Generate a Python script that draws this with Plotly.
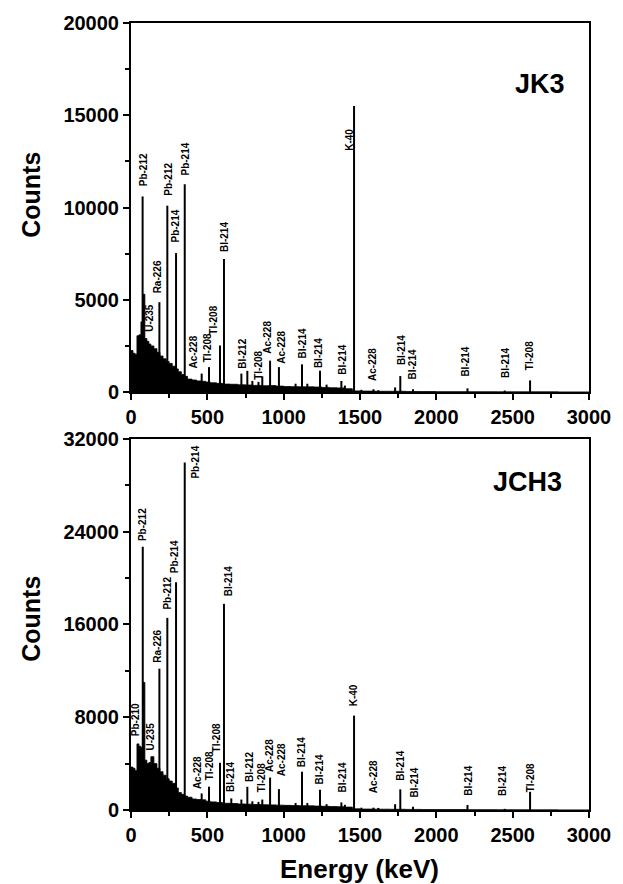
import plotly.graph_objects as go
from plotly.subplots import make_subplots

# ---------------- data ----------------
# continuum bin edges (keV)
bin_edges = [0, 13, 26, 39, 52, 65, 78, 91, 104, 117, 130, 150, 170, 190, 210, 230, 250,
             270, 290, 310, 330, 350, 370, 400, 430, 460, 490, 520, 560, 600, 650, 700,
             750, 800, 850, 900, 950, 1000, 1050, 1100, 1150, 1200, 1250, 1300, 1350,
             1400, 1450, 1500, 1600, 1700, 1800, 1900, 2000, 2200, 2400, 2600, 2800, 3000]

jk3_continuum = [2250, 2100, 2050, 3050, 3100, 3800, 5300, 2900, 2750, 2600, 2500, 2350,
                 2150, 1950, 1800, 1650, 1550, 1400, 1250, 1100, 950, 850, 700, 650, 600,
                 580, 540, 500, 470, 430, 420, 390, 380, 360, 340, 350, 320, 300, 290, 280,
                 280, 270, 250, 230, 220, 180, 60, 50, 40, 40, 30, 25, 20, 15, 10, 10, 5]

jch3_continuum = [3700, 3600, 3400, 5700, 5500, 5400, 11000, 4300, 4000, 4100, 4600, 4000,
                  3600, 3300, 3000, 2700, 2500, 2300, 1900, 1500, 1350, 1200, 1100, 950, 900,
                  880, 760, 700, 650, 580, 560, 520, 500, 470, 450, 440, 420, 400, 380, 370,
                  360, 340, 320, 300, 280, 250, 100, 80, 70, 60, 50, 40, 40, 30, 20, 15, 10]

# peak lines (keV, counts)
jk3_peak_e = [76, 186, 238, 295, 352, 463, 511, 583, 609, 723, 762, 795, 835, 860, 911, 969,
              1078, 1120, 1155, 1238, 1281, 1378, 1401, 1461, 1509, 1588, 1620, 1730, 1764,
              1847, 2204, 2448, 2614]
jk3_peak_c = [10600, 4870, 10100, 7530, 11260, 1000, 1350, 2520, 7210, 1000, 1150, 600, 550,
              850, 1700, 1350, 450, 1500, 450, 1150, 400, 600, 350, 15500, 120, 150, 100, 250,
              865, 150, 200, 80, 630]

jch3_peak_e = [77, 186, 238, 295, 352, 463, 511, 583, 609, 657, 723, 762, 795, 835, 860, 911,
               969, 1078, 1120, 1155, 1238, 1281, 1378, 1401, 1461, 1509, 1588, 1620, 1730,
               1764, 1847, 2204, 2448, 2614]
jch3_peak_c = [22710, 12190, 16570, 19640, 29960, 1430, 2010, 4070, 17780, 1000, 900, 2000,
               750, 700, 900, 2800, 1800, 600, 3300, 600, 1750, 500, 650, 450, 8140, 200, 200,
               180, 500, 1780, 280, 430, 100, 1570]

# peak labels (text, energy keV, count at label base)
jk3_labels = ["Pb-212", "U-235", "Ra-226", "Pb-212", "Pb-214", "Pb-214", "Ac-228", "Tl-208",
              "Tl-208", "BI-214", "BI-212", "Tl-208", "Ac-228", "Ac-228", "BI-214", "BI-214",
              "BI-214", "K-40", "Ac-228", "BI-214", "BI-214", "BI-214", "BI-214", "Tl-208"]
jk3_label_e = [80, 124, 172, 240, 294, 357, 411, 498, 544, 609, 730, 838, 897, 988, 1121,
               1230, 1380, 1432, 1581, 1768, 1844, 2193, 2454, 2611]
jk3_label_c = [11080, 3205, 5280, 10590, 8070, 11680, 1230, 1530, 3030, 7530, 1230, 630,
               2040, 1500, 1770, 1230, 865, 13000, 540, 1400, 600, 770, 690, 1135]

jch3_labels = ["Pb-210", "Pb-212", "U-235", "Ra-226", "Pb-212", "Pb-214", "Pb-214", "Ac-228",
               "Tl-208", "Tl-208", "BI-214", "BI-214", "BI-212", "Tl-208", "Ac-228", "Ac-228",
               "BI-214", "BI-214", "BI-214", "K-40", "Ac-228", "BI-214", "BI-214", "BI-214",
               "BI-214", "Tl-208"]
jch3_label_e = [31, 80, 129, 174, 233, 287, 425, 436, 511, 560, 636, 653, 777, 854, 912, 988,
                1119, 1234, 1383, 1463, 1590, 1768, 1855, 2214, 2438, 2617]
jch3_label_c = [6300, 23080, 5015, 12620, 17200, 20360, 28530, 1720, 2430, 4880, 18350, 1440,
                2300, 1440, 3160, 2860, 3590, 2150, 1440, 8890, 1380, 2430, 1000, 1140, 1140,
                1440]

x_ticks = [0, 500, 1000, 1500, 2000, 2500, 3000]
jk3_y_ticks = [0, 5000, 10000, 15000, 20000]
jch3_y_ticks = [0, 8000, 16000, 24000, 32000]

# ---------------- figure ----------------
FONT = "Liberation Sans, Arial, sans-serif"

fig = make_subplots(rows=2, cols=1, vertical_spacing=0.0)


def stems(energies, counts):
    xs, ys = [], []
    for e, c in zip(energies, counts):
        xs += [e, e, None]
        ys += [0, c, None]
    return xs, ys


for row, cont, pe, pc in [(1, jk3_continuum, jk3_peak_e, jk3_peak_c),
                          (2, jch3_continuum, jch3_peak_e, jch3_peak_c)]:
    fig.add_trace(go.Scatter(x=bin_edges, y=cont + [cont[-1]], mode="lines",
                             line=dict(shape="hv", color="black", width=0.8),
                             fill="tozeroy", fillcolor="black", hoverinfo="skip",
                             showlegend=False), row=row, col=1)
    sx, sy = stems(pe, pc)
    fig.add_trace(go.Scatter(x=sx, y=sy, mode="lines",
                             line=dict(color="black", width=2),
                             hoverinfo="skip", showlegend=False), row=row, col=1)

annotations = []
for xref, yref, texts, es, cs in [("x", "y", jk3_labels, jk3_label_e, jk3_label_c),
                                  ("x2", "y2", jch3_labels, jch3_label_e, jch3_label_c)]:
    for t, e, c in zip(texts, es, cs):
        annotations.append(dict(text=t, x=e, y=c, xref=xref, yref=yref, showarrow=False,
                                textangle=-90, xanchor="center", yanchor="bottom",
                                borderpad=0,
                                font=dict(family=FONT, size=10, color="black", weight="bold")))

annotations.append(dict(text="JK3", x=2854, y=16700, xref="x", yref="y", showarrow=False,
                        xanchor="right", yanchor="middle",
                        font=dict(family=FONT, size=27, color="black", weight="bold")))
annotations.append(dict(text="JCH3", x=2835, y=28300, xref="x2", yref="y2", showarrow=False,
                        xanchor="right", yanchor="middle",
                        font=dict(family=FONT, size=27, color="black", weight="bold")))

for yc in [0.782, 0.2433]:
    annotations.append(dict(text="Counts", x=-0.22, y=yc, xref="paper", yref="paper",
                            showarrow=False, textangle=-90, xanchor="center",
                            yanchor="middle",
                            font=dict(family=FONT, size=25, color="black", weight="bold")))
annotations.append(dict(text="Energy (keV)", x=0.499, y=-0.0748, xref="paper", yref="paper",
                        showarrow=False, xanchor="center", yanchor="middle",
                        font=dict(family=FONT, size=26, color="black", weight="bold")))

axis_common = dict(showline=True, linecolor="black", linewidth=2, mirror=True,
                   ticks="outside", ticklen=6, tickwidth=2, tickcolor="black",
                   showgrid=False, zeroline=False,
                   tickfont=dict(family=FONT, size=20, color="black", weight="bold"))

fig.update_xaxes(range=[0, 3000], tickvals=x_ticks, ticktext=[str(v) for v in x_ticks],
                 minor=dict(dtick=250, ticks="outside", ticklen=4, tickwidth=2,
                            tickcolor="black", showgrid=False),
                 **axis_common)
fig.update_yaxes(range=[0, 20000], tickvals=jk3_y_ticks,
                 ticktext=[str(v) for v in jk3_y_ticks],
                 minor=dict(dtick=2500, ticks="outside", ticklen=4, tickwidth=2,
                            tickcolor="black", showgrid=False),
                 row=1, col=1, **axis_common)
fig.update_yaxes(range=[0, 32000], tickvals=jch3_y_ticks,
                 ticktext=[str(v) for v in jch3_y_ticks],
                 minor=dict(dtick=4000, ticks="outside", ticklen=4, tickwidth=2,
                            tickcolor="black", showgrid=False),
                 row=2, col=1, **axis_common)

fig.update_layout(
    width=623, height=884,
    margin=dict(l=131, r=33, t=21, b=74),
    paper_bgcolor="white", plot_bgcolor="white",
    annotations=annotations,
    showlegend=False,
)
fig.layout.yaxis.domain = [0.5311, 1.0]
fig.layout.yaxis2.domain = [0.0, 0.4715]

fig.write_html("out.html")
